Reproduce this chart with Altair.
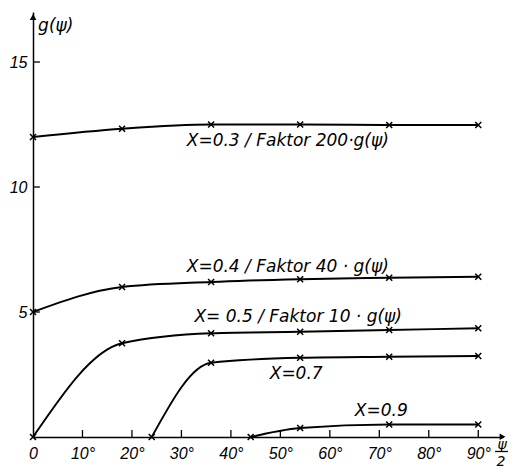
import altair as alt
import pandas as pd

# ---- data ----
deg_full = [0, 18, 36, 54, 72, 90]
g_x03 = [12.0, 12.33, 12.5, 12.5, 12.48, 12.48]
g_x04 = [5.0, 6.0, 6.2, 6.31, 6.37, 6.41]
g_x05 = [0.0, 3.75, 4.15, 4.21, 4.28, 4.35]
deg_x07 = [24, 36, 54, 72, 90]
g_x07 = [0.0, 2.97, 3.17, 3.21, 3.24]
deg_x09 = [44, 54, 72, 90]
g_x09 = [0.0, 0.36, 0.5, 0.5]

x_ticks = [0, 10, 20, 30, 40, 50, 60, 70, 80, 90]
y_ticks = [5, 10, 15]

label_text = ["X=0.3 / Faktor 200·g(ψ)", "X=0.4 / Faktor 40 · g(ψ)",
              "X= 0.5 / Faktor 10 · g(ψ)", "X=0.7", "X=0.9"]
label_deg = [51.5, 51.5, 53.6, 53.2, 70.4]
label_g = [11.86, 6.82, 4.8, 2.54, 1.04]

# ---- tables ----
rows = []
for name, ds, gs in [("0.3", deg_full, g_x03), ("0.4", deg_full, g_x04),
                     ("0.5", deg_full, g_x05), ("0.7", deg_x07, g_x07),
                     ("0.9", deg_x09, g_x09)]:
    for d, g in zip(ds, gs):
        rows.append({"series": name, "deg": d, "g": g})
df = pd.DataFrame(rows)
df_labels = pd.DataFrame({"deg": label_deg, "g": label_g, "text": label_text})
df_xt = pd.DataFrame({"deg": x_ticks[1:], "g": 0.0, "g2": 0.28})
df_yt = pd.DataFrame({"deg": 0.0, "deg2": 1.4, "g": y_ticks})

# annotation table (axis-end arrows, axis titles)
df_ann = pd.DataFrame({
    "kind": ["up", "right", "txt", "txt", "txt"],
    "deg": [0.02, 94.9, 4.6, 94.8, 94.6],
    "g": [16.8, 0.01, 16.45, -0.32, -0.98],
    "text": ["", "", "g(ψ)", "ψ", "2"],
    "size": [17, 17, 17, 14, 14],
})

FONT_T = "Liberation Sans"
FONT_L = "DejaVu Sans"

xs = alt.Scale(domain=[0, 95], nice=False, zero=False)
ys = alt.Scale(domain=[0, 17], nice=False, zero=False)

x_axis = alt.Axis(values=x_ticks,
                  labelExpr="datum.value == 0 ? '0' : datum.value + '°'",
                  ticks=False, grid=False, domainColor="black", domainWidth=1.5,
                  labelFont=FONT_T, labelFontSize=16, labelFontStyle="italic",
                  labelColor="black", labelPadding=8, labelFlush=False,
                  labelOverlap=False, title=None)
y_axis = alt.Axis(values=y_ticks, ticks=False, grid=False, domainColor="black",
                  domainWidth=1.5, labelFont=FONT_T, labelFontSize=16,
                  labelFontStyle="italic", labelColor="black", labelPadding=6,
                  labelFlush=False, labelOverlap=False, title=None)

X = lambda f="deg": alt.X(f"{f}:Q", scale=xs, axis=x_axis)
Y = lambda f="g": alt.Y(f"{f}:Q", scale=ys, axis=y_axis)

lines = alt.Chart(df).mark_line(interpolate="monotone", color="black",
                                strokeWidth=1.9).encode(x=X(), y=Y(), detail="series:N")
points = alt.Chart(df).mark_point(shape="M-1,-1L1,1M-1,1L1,-1", size=36,
                                  filled=False, color="black",
                                  strokeWidth=1.5, opacity=1).encode(x=X(), y=Y())
labels = alt.Chart(df_labels).mark_text(font=FONT_L, fontSize=17, fontStyle="italic",
                                        align="center", baseline="middle",
                                        color="black").encode(x=X(), y=Y(), text="text:N")
xticks = alt.Chart(df_xt).mark_rule(color="black", strokeWidth=1.3).encode(
    x=X(), y=Y(), y2="g2:Q")
yticks = alt.Chart(df_yt).mark_rule(color="black", strokeWidth=1.3).encode(
    x=X(), x2="deg2:Q", y=Y())

ann = alt.Chart(df_ann)
arrow_up = ann.transform_filter("datum.kind == 'up'").mark_point(
    shape="triangle-up", size=45, filled=True, color="black",
    opacity=1).encode(x=X(), y=Y())
arrow_right = ann.transform_filter("datum.kind == 'right'").mark_point(
    shape="triangle-right", size=45, filled=True, color="black",
    opacity=1).encode(x=X(), y=Y())
ann_text = ann.transform_filter("datum.kind == 'txt'").mark_text(
    font=FONT_L, fontStyle="italic", align="center", baseline="middle",
    color="black").encode(x=X(), y=Y(), text="text:N",
                          size=alt.Size("size:Q", scale=None, legend=None))
xbar = alt.Chart(pd.DataFrame({"deg": [93.4], "deg2": [96.0], "g": [-0.58]})).mark_rule(
    color="black", strokeWidth=1.3).encode(x=X(), x2="deg2:Q", y=Y())

chart = alt.layer(lines, points, labels, xticks, yticks, arrow_up, arrow_right,
                  ann_text, xbar).properties(
    width=470, height=425,
    autosize=alt.AutoSizeParams(type="none"),
    padding={"left": 33, "top": 12, "right": 8, "bottom": 31},
    background="white",
).configure_view(stroke=None)

chart.save("out.html", embed_options={"renderer": "svg", "actions": False})
